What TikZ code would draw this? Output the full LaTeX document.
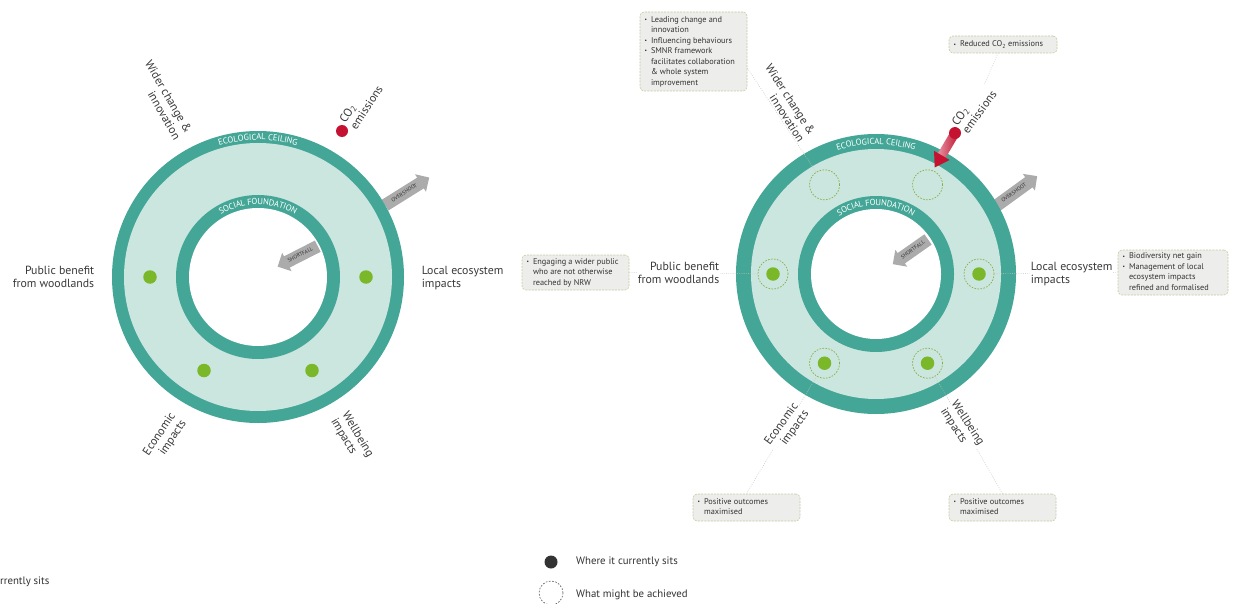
\documentclass[tikz,border=0pt]{standalone}
\usepackage{fontspec}
\setmainfont{PT Sans}
\usepackage{graphicx}
\usetikzlibrary{shapes.arrows,decorations.text,calc}
\definecolor{ringteal}{HTML}{44A696}
\definecolor{lightteal}{HTML}{CBE6DF}
\definecolor{dotgreen}{HTML}{7AB82A}
\definecolor{dashgreen}{HTML}{8AAE45}
\definecolor{crimson}{HTML}{C41230}
\definecolor{arrowgray}{HTML}{ABABAB}
\definecolor{boxfill}{HTML}{EDEDEB}
\definecolor{boxborder}{HTML}{C2CE9C}
\definecolor{boxtext}{HTML}{333333}
\definecolor{labelgray}{HTML}{3A3A3A}
\newcommand{\ringfont}{\color{white}\fontsize{8.6}{8.6}\selectfont}
\newcommand{\bxb}{\makebox[6.5pt][l]{\raisebox{0.7pt}{\scalebox{0.65}{\textbullet}}}}
\newcommand{\bxi}{\hspace*{6.5pt}}
\begin{document}
\begin{tikzpicture}[x=1pt,y=1pt,
  lbl/.style={font=\fontsize{11.8}{13}\selectfont, text=labelgray, inner sep=0.6pt},
  rlbl/.style={lbl, fill=white},
  infobox/.style={draw=boxborder, dash pattern=on 2pt off 1.2pt, line width=0.6pt, fill=boxfill,
    rounded corners=4pt, font=\fontsize{8.3}{10.5}\selectfont, text=boxtext, inner xsep=4.5pt, inner ysep=1pt},
  leader/.style={draw=gray!45, line width=0.5pt, dash pattern=on 0.8pt off 1.4pt},
  gdot/.style={circle, fill=dotgreen, minimum size=13.5pt, inner sep=0pt},
  target/.style={circle, draw=dashgreen, dash pattern=on 1.6pt off 1.4pt, line width=0.7pt, minimum size=30pt, inner sep=0pt},
  blk/.style={single arrow, fill=arrowgray, single arrow head extend=4pt, single arrow head indent=0pt,
    inner xsep=1pt, inner ysep=4pt, text height=3.6pt, text depth=0.6pt, font=\fontsize{5.4}{6}\selectfont, text=black!80},
  legtxt/.style={anchor=west, font=\fontsize{10.8}{12}\selectfont, text=boxtext, inner sep=0pt},
]
\fill[white] (0,0) rectangle (1236,-604);
\path[use as bounding box] (0,0) rectangle (1236,-604);

\coordinate (L) at (258,-277);
\coordinate (R) at (876,-274);

% overshoot arrows (behind rings)
\node[blk, rotate=32, minimum height=52pt] (lover) at (404.5,-193) {OVERSHOOT};
\node[blk, rotate=36, minimum height=51pt] (rover) at (1014,-193) {OVERSHOOT};

% left donut
\fill[ringteal] (L) circle (146);
\fill[lightteal] (L) circle (134);
\fill[ringteal] (L) circle (82);
\fill[white] (L) circle (69);
% right donut
\fill[ringteal] (R) circle (140);
\fill[lightteal] (R) circle (125);
\fill[ringteal] (R) circle (78);
\fill[white] (R) circle (65);

% ring texts
\path[decorate, decoration={text along path, text align=center, raise=-3pt, text={|\ringfont|ECOLOGICAL CEILING}}]
  ($(L)+(170:140)$) arc[start angle=170, end angle=10, radius=140];
\path[decorate, decoration={text along path, text align=center, raise=-3pt, text={|\ringfont|SOCIAL FOUNDATION}}]
  ($(L)+(170:75.5)$) arc[start angle=170, end angle=10, radius=75.5];
\path[decorate, decoration={text along path, text align=center, raise=-3pt, text={|\ringfont|ECOLOGICAL CEILING}}]
  ($(R)+(170:132.5)$) arc[start angle=170, end angle=10, radius=132.5];
\path[decorate, decoration={text along path, text align=center, raise=-3pt, text={|\ringfont|SOCIAL FOUNDATION}}]
  ($(R)+(170:71.5)$) arc[start angle=170, end angle=10, radius=71.5];

% left dots
\node[gdot] (ld0) at ($(L)+(0:108)$) {};
\node[gdot] (ld180) at ($(L)+(180:108)$) {};
\node[gdot] (ld240) at ($(L)+(240:108)$) {};
\node[gdot] (ld300) at ($(L)+(300:108)$) {};
\fill[crimson] (342,-131) circle (6);

% right targets and dots
\foreach \a in {0,60,120,180,240,300} {
  \node[target] (rt\a) at ($(R)+(\a:103)$) {};
}
\foreach \a in {0,180,240,300} {
  \node[gdot] (rd\a) at ($(R)+(\a:103)$) {};
}

% shortfall arrows
\node[blk, rotate=27, shape border rotate=180, minimum height=45pt] (lshort) at (300.5,-255) {SHORTFALL};
\node[blk, rotate=35, shape border rotate=180, minimum height=43pt] (rshort) at (913,-250) {SHORTFALL};

% info boxes
\node[infobox, minimum height=79pt] (b1) at (693.5,-51.5) {\makebox[98pt][l]{\begin{tabular}{@{}l@{}}
\bxb Leading change and\\ \bxi innovation\\ \bxb Influencing behaviours\\ \bxb SMNR framework\\
\bxi facilitates collaboration\\ \bxi \& whole system\\ \bxi improvement\end{tabular}}};
\node[infobox, minimum height=17pt] (b2) at (1003,-44.5) {\makebox[99pt][l]{\bxb Reduced CO\textsubscript{2} emissions}};
\node[infobox, minimum height=35pt] (b3) at (575.5,-272.5) {\makebox[98pt][l]{\begin{tabular}{@{}l@{}}
\bxb Engaging a wider public\\ \bxi who are not otherwise\\ \bxi reached by NRW\end{tabular}}};
\node[infobox, minimum height=45pt] (b4) at (1173,-272.5) {\makebox[101pt][l]{\begin{tabular}{@{}l@{}}
\bxb Biodiversity net gain\\ \bxb Management of local\\ \bxi ecosystem impacts\\ \bxi refined and formalised\end{tabular}}};
\node[infobox, minimum height=27pt] (b5) at (746.5,-507.5) {\makebox[98pt][l]{\begin{tabular}{@{}l@{}}
\bxb Positive outcomes\\ \bxi maximised\end{tabular}}};
\node[infobox, minimum height=27pt] (b6) at (1002.5,-507.5) {\makebox[98pt][l]{\begin{tabular}{@{}l@{}}
\bxb Positive outcomes\\ \bxi maximised\end{tabular}}};

% leaders
\draw[leader] ([yshift=-16.5pt]b1.east) -- (rt120);
\draw[leader] ([xshift=-5pt]b2.south) -- (974,-108);
\draw[leader] (b3.east) -- (rt180);
\draw[leader] (rt0) -- (b4.west);
\draw[leader] (rt240) -- (b5.north);
\draw[leader] (rt300) -- (b6.north);

% red arrow (right)
\begin{scope}[shift={(955,-133)}, rotate=239.5]
  \shade[left color=crimson!45!white, right color=crimson] (0,-4.5) rectangle (27,4.5);
  \fill[crimson] (26,-9) -- (40,0) -- (26,9) -- cycle;
\end{scope}
\fill[crimson] (955,-133) circle (6);

% left labels
\node[lbl, rotate=-60, align=right] (lw) at (163,-100) {Wider change \&\\innovation};
\node[lbl, rotate=57, align=left] (lc) at (361,-104) {CO\textsubscript{2}\\emissions};
\node[lbl, anchor=east, align=right] (lp) at (95,-277) {Public benefit\\from woodlands};
\node[lbl, anchor=west, align=left] (ll) at (421,-278) {Local ecosystem\\impacts};
\node[lbl, rotate=56, align=right] (le) at (165,-438) {Economic\\impacts};
\node[lbl, rotate=-59, align=left] (lb) at (352,-438) {Wellbeing\\impacts};

% right labels
\node[rlbl, rotate=-57, align=right] (rw) at (785,-103) {Wider change \&\\innovation};
\node[rlbl, rotate=54, align=left] (rc) at (974,-108) {CO\textsubscript{2}\\emissions};
\node[rlbl, anchor=east, align=right] (rp) at (720,-273) {Public benefit\\from woodlands};
\node[rlbl, anchor=west, align=left] (rl) at (1030,-274) {Local ecosystem\\impacts};
\node[rlbl, rotate=54, align=right] (re) at (787,-428) {Economic\\impacts};
\node[rlbl, rotate=-57, align=left] (rb) at (962,-427) {Wellbeing\\impacts};

% legend
\node[circle, fill=black!80, minimum size=13pt, inner sep=0pt] (legdot) at (551,-562) {};
\node[circle, draw=black!70, dash pattern=on 1.6pt off 1.6pt, line width=0.6pt, minimum size=24pt, inner sep=0pt] (legring) at (551,-593) {};
\node[legtxt] (legt1) at (576,-562) {Where it currently sits};
\node[legtxt] (legt2) at (576,-595) {What might be achieved};
\node[legtxt] (legt0) at (0,-582) {rrently sits};
\end{tikzpicture}
\end{document}
